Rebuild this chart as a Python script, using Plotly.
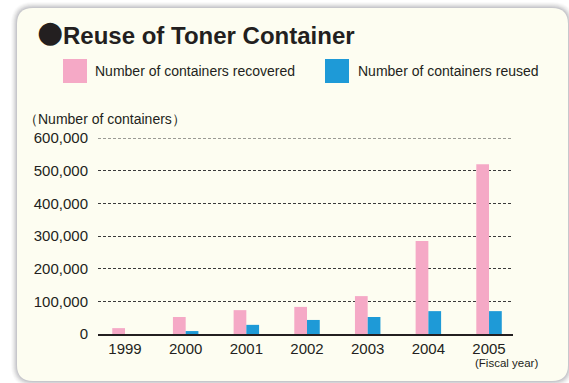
import plotly.graph_objects as go

# Fiscal years and container counts
years = ["1999", "2000", "2001", "2002", "2003", "2004", "2005"]
recovered = [18000, 52000, 73000, 83000, 116000, 285000, 520000]
reused = [0, 9000, 28000, 43000, 52000, 70000, 70000]
y_ticks = [0, 100000, 200000, 300000, 400000, 500000, 600000]

W, H = 569, 383
PINK = "#F5A9C6"
BLUE = "#1E9AD7"
CREAM = "#FDFDF1"
INK = "#231F20"
GRID = "#3a3a3a"
FONT = "Liberation Sans, Arial, sans-serif"

xpos = list(range(len(years)))

fig = go.Figure()
fig.add_trace(go.Bar(x=xpos, y=recovered, marker=dict(color=PINK, line=dict(width=0)),
                     name="Number of containers recovered", showlegend=False))
fig.add_trace(go.Bar(x=xpos, y=reused, marker=dict(color=BLUE, line=dict(width=0)),
                     name="Number of containers reused", showlegend=False))


def px(x):
    return x / W


def py(y):
    return 1 - y / H


def rounded_rect(x0, y0, x1, y1, r):
    # path in pixel coordinates (top-left origin) converted to paper units
    p = lambda x, y: f"{px(x):.5f},{py(y):.5f}"
    return (f"M {p(x0 + r, y0)} L {p(x1 - r, y0)} Q {p(x1, y0)} {p(x1, y0 + r)} "
            f"L {p(x1, y1 - r)} Q {p(x1, y1)} {p(x1 - r, y1)} "
            f"L {p(x0 + r, y1)} Q {p(x0, y1)} {p(x0, y1 - r)} "
            f"L {p(x0, y0 + r)} Q {p(x0, y0)} {p(x0 + r, y0)} Z")


X0, X1 = px(98), px(513)

shapes = []
# soft grey shadow around the panel
for i, op in zip(range(6, 0, -1), [0.05, 0.07, 0.09, 0.12, 0.15, 0.2]):
    shapes.append(dict(type="path", xref="paper", yref="paper", layer="below",
                       path=rounded_rect(17 - i, 8 - i, 568 + i, 381 + i, 16 + i),
                       fillcolor=f"rgba(150,150,160,{op})", line=dict(width=0)))
shapes.append(dict(type="path", xref="paper", yref="paper", layer="below",
                   path=rounded_rect(17, 8, 568, 381, 16),
                   fillcolor=CREAM, line=dict(width=0)))
# top gridline (sits on the edge of the plot area)
shapes.append(dict(type="line", xref="paper", yref="y", layer="below",
                   x0=X0, x1=X1, y0=y_ticks[-1], y1=y_ticks[-1],
                   line=dict(color=GRID, width=1, dash="3px,2px")))
# legend swatches
shapes.append(dict(type="rect", xref="paper", yref="paper", layer="above",
                   x0=px(63), x1=px(87), y0=py(83), y1=py(59),
                   fillcolor=PINK, line=dict(width=0)))
shapes.append(dict(type="rect", xref="paper", yref="paper", layer="above",
                   x0=px(325), x1=px(349), y0=py(83), y1=py(59),
                   fillcolor=BLUE, line=dict(width=0)))

annotations = [
    dict(text="●", x=px(50), y=py(32), xref="paper", yref="paper",
         xanchor="center", yanchor="middle", showarrow=False,
         font=dict(family="DejaVu Sans", size=30, color=INK)),
    dict(text="<b>Reuse of Toner Container</b>", x=px(61), y=py(35), xref="paper", yref="paper",
         xanchor="left", yanchor="middle", showarrow=False,
         font=dict(family=FONT, size=24, color=INK)),
    dict(text="Number of containers recovered", x=px(93), y=py(71), xref="paper", yref="paper",
         xanchor="left", yanchor="middle", showarrow=False,
         font=dict(family=FONT, size=14, color=INK)),
    dict(text="Number of containers reused", x=px(356), y=py(71), xref="paper", yref="paper",
         xanchor="left", yanchor="middle", showarrow=False,
         font=dict(family=FONT, size=14, color=INK)),
    dict(text="（Number of containers）", x=px(22), y=py(119), xref="paper", yref="paper",
         xanchor="left", yanchor="middle", showarrow=False,
         font=dict(family=FONT, size=14, color=INK)),
    dict(text="(Fiscal year)", x=px(506), y=py(363), xref="paper", yref="paper",
         xanchor="center", yanchor="middle", showarrow=False,
         font=dict(family=FONT, size=11.5, color=INK)),
]

fig.update_layout(
    width=W, height=H,
    margin=dict(l=0, r=0, t=0, b=0, autoexpand=False),
    paper_bgcolor="white",
    plot_bgcolor="rgba(0,0,0,0)",
    barmode="group", bargap=0.58, bargroupgap=0,
    shapes=shapes, annotations=annotations,
    font=dict(family=FONT, size=14, color=INK),
    xaxis=dict(domain=[X0, X1], range=[-0.445, 6.395], automargin=False,
               tickmode="array", tickvals=xpos, ticktext=years,
               showgrid=False, zeroline=False, showline=True,
               linecolor=INK, linewidth=1.5, ticks="", ticklabelstandoff=0,
               tickfont=dict(family=FONT, size=15, color=INK)),
    yaxis=dict(domain=[py(334), py(138)], range=[0, 600000], automargin=False,
               tickmode="array", tickvals=y_ticks,
               ticktext=[f"{v:,}" for v in y_ticks],
               showgrid=True, gridcolor=GRID, gridwidth=1, griddash="3px,2px",
               zeroline=False, showline=False, ticks="",
               ticklabelstandoff=9,
               tickfont=dict(family=FONT, size=15, color=INK)),
)

fig.write_html("out.html")
